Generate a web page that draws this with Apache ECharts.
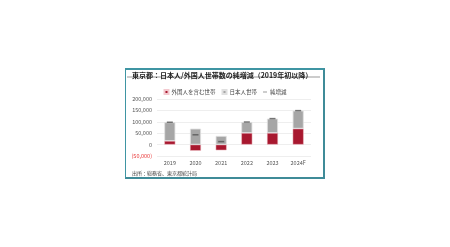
<!DOCTYPE html>
<html><head><meta charset="utf-8">
<script src="https://cdn.jsdelivr.net/npm/echarts@6/dist/echarts.min.js"></script>
<style>
html,body{margin:0;padding:0;background:#fff;}
#c{width:450px;height:247px;position:absolute;left:0;top:0;}
#box{position:absolute;left:125px;top:68px;width:197px;height:107px;border-top:2px solid #3f95a3;border-left:1px solid #3f95a3;border-right:2px solid #3f8b98;border-bottom:2px solid #3f8b98;pointer-events:none;}
</style></head>
<body>
<div id="c"></div>
<div id="box"></div>
<script>
const categories = ['2019','2020','2021','2022','2023','2024F'];
const foreignHH = [16000, -27000, -25000, 51000, 51000, 70000];
const japaneseHH = [82000, 70000, 38000, 48000, 63000, 79000];
const netChange = [98000, 43000, 13000, 99000, 114000, 149000];
const yTicks = [-50000, 0, 50000, 100000, 150000, 200000];

const fmt = v => v < 0 ? '(' + Math.abs(v).toLocaleString('en-US') + ')' : v.toLocaleString('en-US');
const font = 'Noto Sans CJK JP';
const chart = echarts.init(document.getElementById('c'), null, {renderer:'canvas'});
chart.setOption({
  animation:false,
  textStyle:{fontFamily:font},
  title:[{text:'東京都：日本人/外国人世帯数の純増減（2019年初以降）',left:127,top:67,
    textStyle:{fontSize:7,fontWeight:'bold',color:'#222',fontFamily:font}},
    {text:'出所：総務省、東京都統計局',left:127,top:166,
    textStyle:{fontSize:5,fontWeight:'normal',color:'#444',fontFamily:font}}],
  graphic:[{type:'line',shape:{x1:127,y1:77,x2:320,y2:77},style:{stroke:'#999',lineWidth:1}}],
  legend:{top:84,left:'center',itemWidth:4,itemHeight:4,itemGap:6,
    textStyle:{fontSize:5.5,color:'#444',fontFamily:font,padding:[0,0,0,-2]},
    data:[{name:'外国人を含む世帯',icon:'rect'},{name:'日本人世帯',icon:'rect'},
      {name:'純増減',icon:'path://M0,0L10,0L10,2L0,2Z',itemStyle:{color:'#666'}}]},
  grid:{left:157,right:139,top:99,bottom:91},
  xAxis:{type:'category',data:categories,axisLine:{show:false},axisTick:{show:false},
    axisLabel:{fontSize:5.5,color:'#555',margin:4}},
  yAxis:{type:'value',min:yTicks[0],max:yTicks[yTicks.length-1],interval:50000,
    axisLabel:{fontSize:5.5,margin:5,formatter:v=>fmt(v),
      color:v=>(+v<0?'#e83030':'#555')},
    splitLine:{lineStyle:{color:'#eee',width:1}}},
  series:[
    {name:'外国人を含む世帯',type:'bar',stack:'hh',data:foreignHH,barWidth:11,
      itemStyle:{color:'#a8182f',borderColor:'#f3c9cf',borderWidth:0.5}},
    {name:'日本人世帯',type:'bar',stack:'hh',data:japaneseHH,barWidth:11,
      itemStyle:{color:'#a6a6a6',borderColor:'#e0e0e0',borderWidth:0.8}},
    {name:'純増減',type:'scatter',data:netChange,symbol:'rect',symbolSize:[6,1.5],
      itemStyle:{color:'#555'},z:5}
  ]
});
</script>
</body></html>
